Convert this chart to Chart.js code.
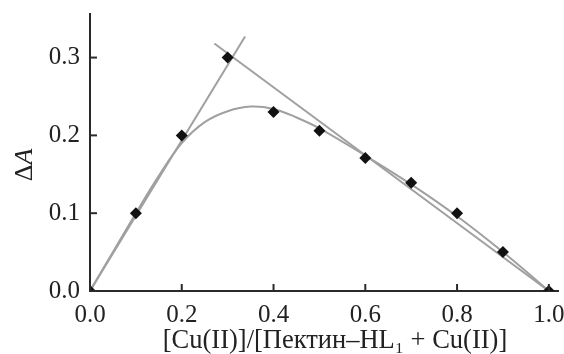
<!DOCTYPE html>
<html>
<head>
<meta charset="utf-8">
<script src="https://cdn.jsdelivr.net/npm/chart.js@4"></script>
<style>
  html, body { margin: 0; padding: 0; background: #fff; }
  #wrap { width: 564px; height: 354px; }
</style>
</head>
<body>
<div id="wrap"><canvas id="myChart"></canvas></div>
<script>
// measured points
var fractions = [0.0, 0.1, 0.2, 0.3, 0.4, 0.5, 0.6, 0.7, 0.8, 0.9, 1.0];
var deltaA = [0.0, 0.10, 0.20, 0.30, 0.23, 0.206, 0.171, 0.139, 0.10, 0.05, 0.0];

// fitted curve
var curveX = [0.0, 0.05, 0.1, 0.15, 0.2, 0.25, 0.3, 0.35, 0.4, 0.45, 0.5, 0.6, 0.7, 0.8, 0.9, 1.0];
var curveY = [0.0, 0.050, 0.100, 0.148, 0.190, 0.217, 0.231, 0.237, 0.234, 0.223, 0.209, 0.174, 0.137, 0.096, 0.050, 0.0];

// tangent lines
var riseX = [0.0, 0.338];
var riseY = [0.0, 0.327];
var fallX = [0.271, 1.0];
var fallY = [0.318, 0.0];

var xTicks = [0.0, 0.2, 0.4, 0.6, 0.8, 1.0];
var yTicks = [0.0, 0.1, 0.2, 0.3];

function pts(xs, ys) {
    return xs.map(function (x, i) { return { x: x, y: ys[i] }; });
}

var serif = '"Liberation Serif", "DejaVu Serif", serif';
var axisColor = '#2a2a2a';
var lineColor = '#a0a0a0';

// short ticks drawn inside the plot, plus the axis titles
var innerTicks = {
    id: 'innerTicks',
    afterDraw: function (chart) {
        var c = chart.ctx, xs = chart.scales.x, ys = chart.scales.y;
        var a = chart.chartArea;
        c.save();
        c.strokeStyle = axisColor;
        c.lineWidth = 2;
        xTicks.forEach(function (v) {
            var px = xs.getPixelForValue(v);
            c.beginPath(); c.moveTo(px, a.bottom); c.lineTo(px, a.bottom - 7); c.stroke();
        });
        yTicks.forEach(function (v) {
            var py = ys.getPixelForValue(v);
            c.beginPath(); c.moveTo(a.left, py); c.lineTo(a.left + 7, py); c.stroke();
        });
        c.fillStyle = '#222';
        c.textBaseline = 'alphabetic';

        // x title
        c.font = '26.5px ' + serif;
        c.textAlign = 'center';
        c.fillText('[Cu(II)]/[Пектин–HL₁ + Cu(II)]', 335, 348);

        // ΔA with italic A
        c.textAlign = 'left';
        c.translate(32, 165);
        c.rotate(-Math.PI / 2);
        c.font = '26px ' + serif;
        var w1 = c.measureText('Δ').width;
        c.font = 'italic 26px ' + serif;
        var w2 = c.measureText('A').width;
        var start = -(w1 + w2) / 2;
        c.font = '26px ' + serif;
        c.fillText('Δ', start, 0);
        c.font = 'italic 26px ' + serif;
        c.fillText('A', start + w1, 0);
        c.restore();
    }
};

var ctx = document.getElementById('myChart').getContext('2d');
var chart = new Chart(ctx, {
    type: 'scatter',
    data: {
        datasets: [{
            data: pts(fractions, deltaA),
            pointStyle: 'rectRot',
            pointRadius: 6,
            pointHoverRadius: 6,
            backgroundColor: '#111',
            borderColor: '#111',
            borderWidth: 0,
            showLine: false,
            order: 0
        }, {
            data: pts(curveX, curveY),
            showLine: true,
            pointRadius: 0,
            borderColor: lineColor,
            borderWidth: 2,
            tension: 0.4,
            order: 1
        }, {
            data: pts(riseX, riseY),
            showLine: true,
            pointRadius: 0,
            borderColor: lineColor,
            borderWidth: 2,
            order: 2
        }, {
            data: pts(fallX, fallY),
            showLine: true,
            pointRadius: 0,
            borderColor: lineColor,
            borderWidth: 2,
            order: 3
        }]
    },
    options: {
        responsive: true,
        maintainAspectRatio: false,
        animation: false,
        layout: { padding: { top: 14, right: 4, left: 0, bottom: 0 } },
        plugins: { legend: { display: false }, tooltip: { enabled: false } },
        scales: {
            x: {
                type: 'linear',
                min: 0,
                max: 1.02,
                afterBuildTicks: function (s) { s.ticks = xTicks.map(function (v) { return { value: v }; }); },
                afterFit: function (s) { s.height = 63; s.paddingLeft = 0; s.paddingRight = 0; },
                border: { color: axisColor, width: 2 },
                grid: { drawOnChartArea: false, drawTicks: false },
                ticks: {
                    padding: 12,
                    color: '#222',
                    font: { family: serif, size: 25, lineHeight: 1.0 },
                    maxRotation: 0,
                    callback: function (v) { return v.toFixed(1); }
                }
            },
            y: {
                type: 'linear',
                min: 0,
                max: 0.356,
                afterBuildTicks: function (s) { s.ticks = yTicks.map(function (v) { return { value: v }; }); },
                afterFit: function (s) { s.width = 90; s.paddingTop = 0; s.paddingBottom = 0; },
                border: { color: axisColor, width: 2 },
                grid: { drawOnChartArea: false, drawTicks: false },
                ticks: {
                    padding: 10,
                    color: '#222',
                    font: { family: serif, size: 25 },
                    callback: function (v) { return v.toFixed(1); }
                }
            }
        }
    },
    plugins: [innerTicks]
});
</script>
</body>
</html>
